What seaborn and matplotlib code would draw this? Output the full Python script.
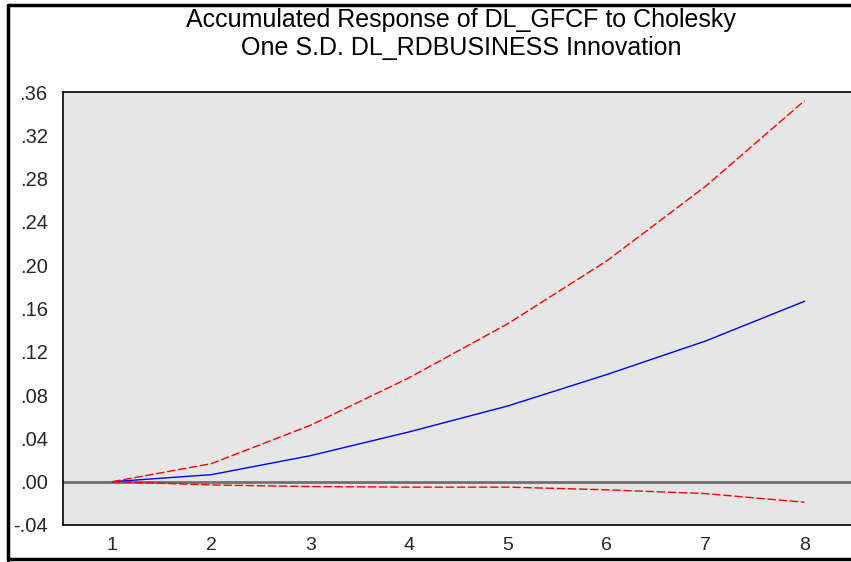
import matplotlib
matplotlib.use("Agg")
import matplotlib.pyplot as plt
import seaborn as sns
import pandas as pd
import numpy as np

periods = [1, 2, 3, 4, 5, 6, 7, 8]
response = [0.0, 0.0065, 0.024, 0.046, 0.070, 0.099, 0.130, 0.1667]
upper_band = [0.0, 0.0167, 0.052, 0.096, 0.146, 0.204, 0.273, 0.352]
lower_band = [0.0, -0.003, -0.0045, -0.005, -0.005, -0.0075, -0.011, -0.019]
y_ticks = [-0.04, 0.00, 0.04, 0.08, 0.12, 0.16, 0.20, 0.24, 0.28, 0.32, 0.36]
title_lines = ["Accumulated Response of DL_GFCF to Cholesky",
               "One S.D. DL_RDBUSINESS Innovation"]

sns.set_theme(style="white")
plt.rcParams['font.family'] = ['Liberation Sans', 'DejaVu Sans']

df = pd.DataFrame({
    "period": periods * 3,
    "value": response + upper_band + lower_band,
    "series": ["resp"] * 8 + ["upper"] * 8 + ["lower"] * 8,
})

fig = plt.figure(figsize=(8.51, 5.62), dpi=100)
ax = fig.add_axes([63 / 851, 37 / 562, 791 / 851, 433 / 562])
ax.set_facecolor("#E6E6E6")

ax.axhline(0, color="#707070", lw=2, zorder=1)

sns.lineplot(data=df[df.series == "resp"], x="period", y="value", color="#0000FF",
             lw=1.0, ax=ax, zorder=3)
for s in ["upper", "lower"]:
    sns.lineplot(data=df[df.series == s], x="period", y="value", color="#FF0000",
                 lw=1.0, ax=ax, zorder=3, dashes=False, linestyle=(0, (6, 2)))

ax.set_xlim(0.5, 8.5)
ax.set_ylim(-0.04, 0.36)
ax.set_yticks(y_ticks)
ax.set_yticklabels([("%.2f" % v).replace("0.", ".") for v in y_ticks], fontsize=14.5)
ax.set_xticks(periods)
ax.set_xticklabels([str(p) for p in periods], fontsize=14)
ax.set_xticks(np.arange(0.5, 8.6, 1.0), minor=True)
ax.tick_params(axis="x", which="major", length=0, pad=9)
ax.tick_params(axis="x", which="minor", length=7, width=1, color="black", direction="out")
ax.tick_params(axis="y", which="major", length=8, width=1, color="black", direction="out", pad=3)
ax.set_xlabel("")
ax.set_ylabel("")
for side in ["left", "top", "bottom"]:
    ax.spines[side].set_color("black")
    ax.spines[side].set_linewidth(1.2)
ax.spines["right"].set_visible(False)

# two-line title
fig.text(461 / 851, 1 - 27 / 562, title_lines[0], ha="center", va="baseline",
         fontsize=18, color="black")
fig.text(461 / 851, 1 - 55 / 562, title_lines[1], ha="center", va="baseline",
         fontsize=18, color="black")

# figure border
for (x0, y0, x1, y1) in [(7.5 / 851, 2.5 / 562, 7.5 / 851, 557 / 562),
                         (7.5 / 851, 557 / 562, 1.0, 557 / 562),
                         (7.5 / 851, 3.0 / 562, 1.0, 3.0 / 562)]:
    fig.add_artist(plt.Line2D([x0, x1], [1 - (1 - y0), 1 - (1 - y1)], color="black", lw=2.5,
                              transform=fig.transFigure))

fig.savefig("out.png", dpi=100)
